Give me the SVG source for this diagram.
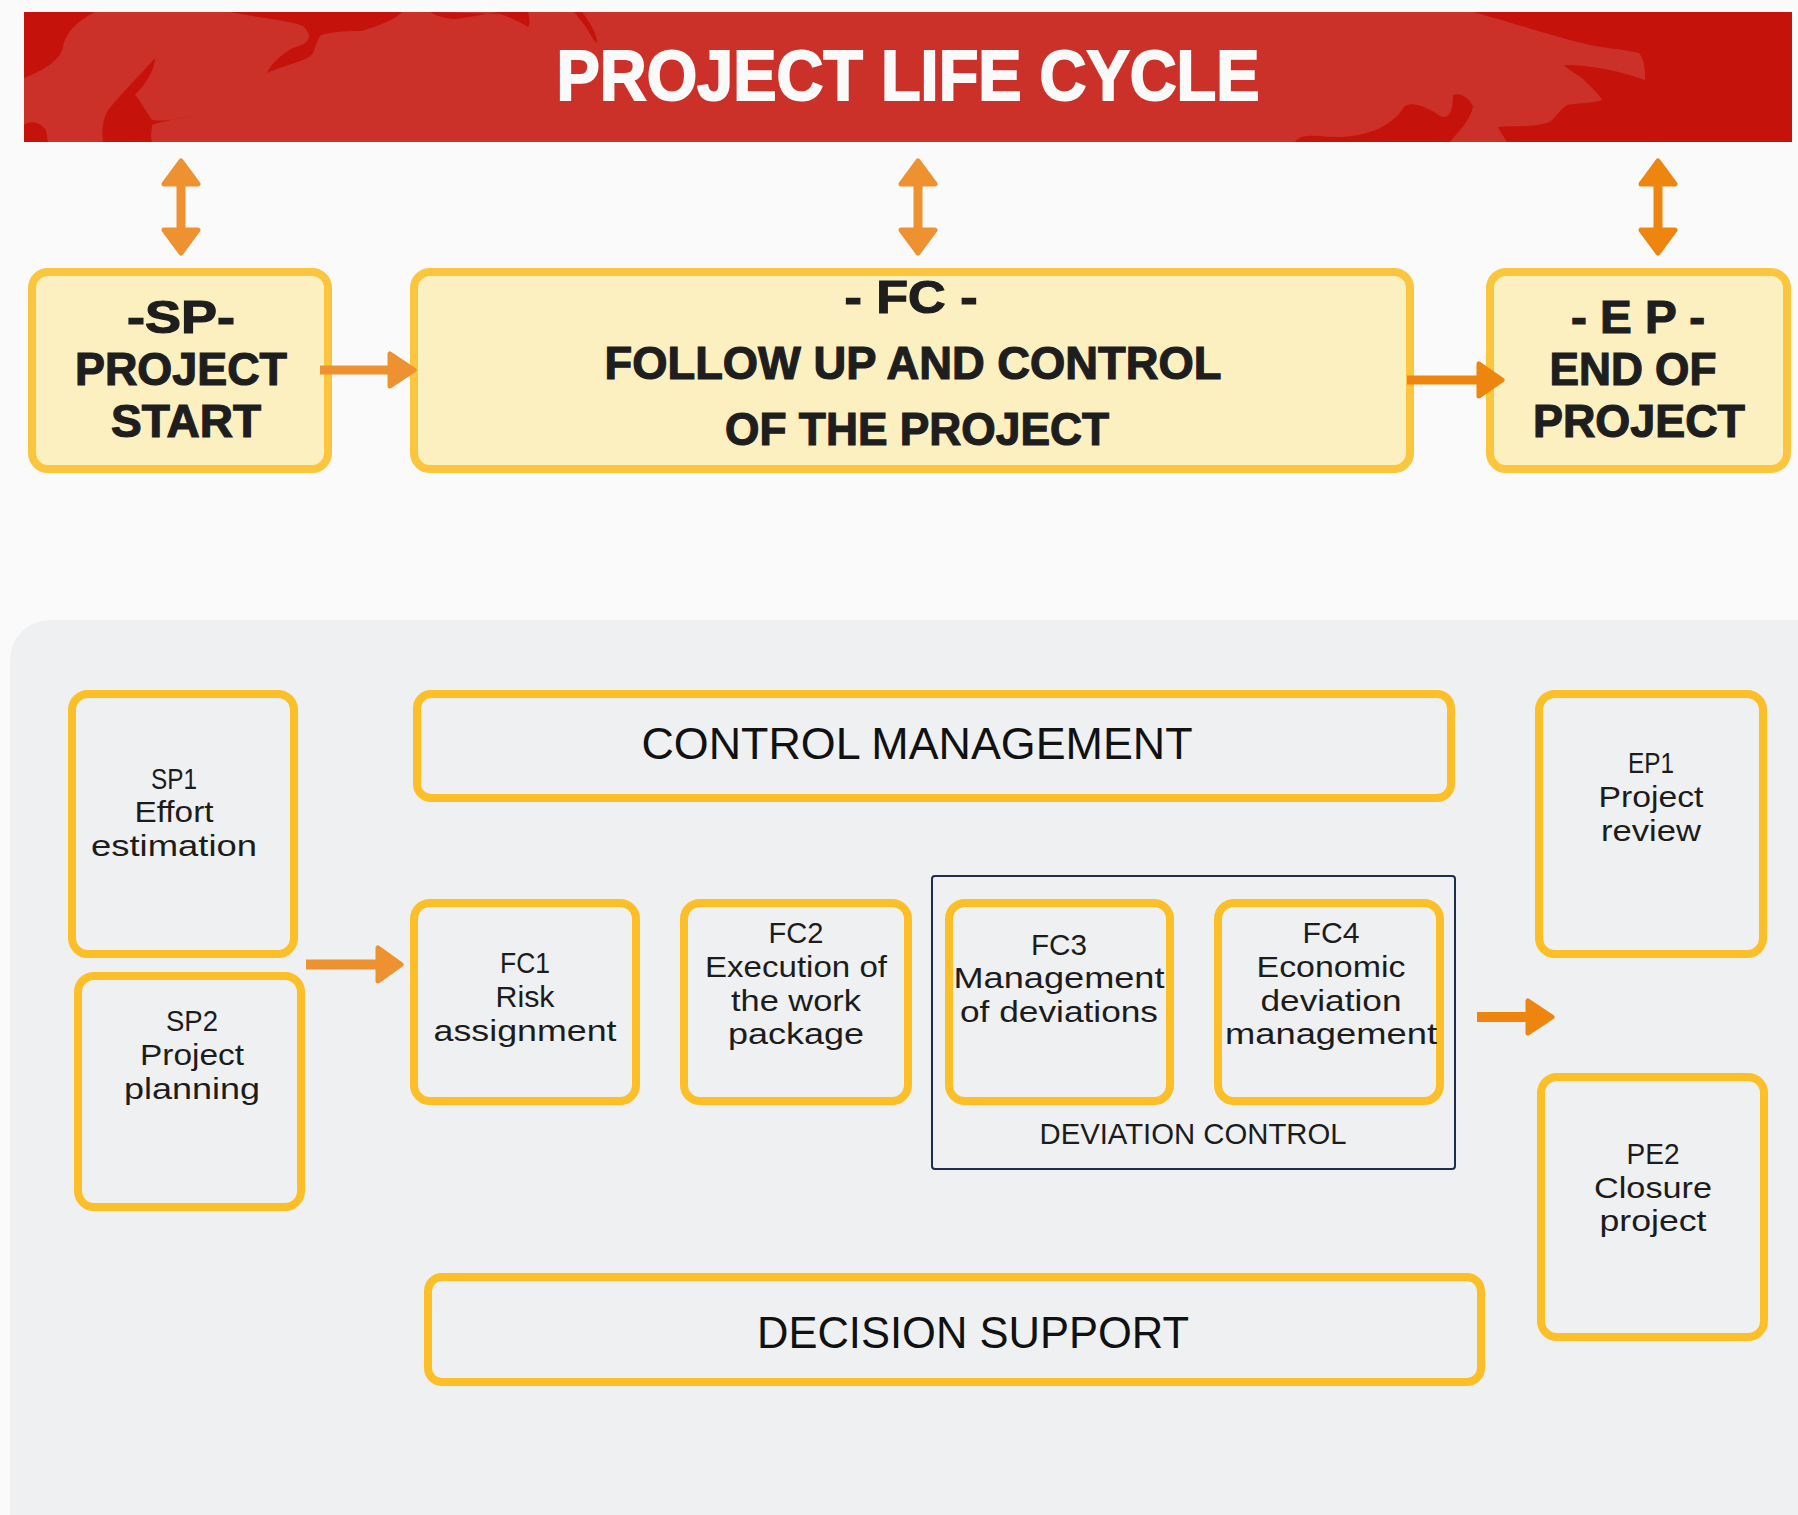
<svg xmlns="http://www.w3.org/2000/svg" width="1798" height="1515" viewBox="0 0 1798 1515">
<style>
.bold{font-family:"Liberation Sans",Arial,sans-serif;font-weight:bold;fill:#1e1e1e;stroke:#1e1e1e;stroke-width:1.2;text-anchor:middle}
.title{font-family:"Liberation Sans",Arial,sans-serif;font-weight:bold;fill:#fafafa;stroke:#fafafa;stroke-width:2;text-anchor:middle;font-size:70px}
.reg{font-family:"Liberation Sans",Arial,sans-serif;fill:#1c1c1c;text-anchor:middle;font-size:30px}
.big{font-family:"Liberation Sans",Arial,sans-serif;fill:#111;text-anchor:middle;font-size:45px}
.topbox{fill:#fdf0c0;stroke:#fbc63e;stroke-width:8}
.box{fill:none;stroke:#fcbf27;stroke-width:8}
.arr{fill:#ee9130;stroke:#ee9130;stroke-width:5;stroke-linejoin:round}
.arr2{fill:#ee850f;stroke:#ee850f;stroke-width:5;stroke-linejoin:round}
.dark{fill:#c5130c}
</style>
<rect x="0" y="0" width="1798" height="1515" fill="#fafafa"/>
<g id="banner">
<rect x="24" y="12" width="1768" height="130" fill="#cb3029"/>
<path class="dark" d="M24,12 H95 C80,20 66,30 63,47 C60,60 45,70 24,78 Z"/>
<path class="dark" d="M230,12 C260,18 300,22 304,27 C312,35 312,43 293,48 C280,55 270,65 267,73 C285,65 310,60 313,53 C316,45 318,38 321,35 C335,31 350,31 362,31 C380,25 395,20 402,12 Z"/>
<path class="dark" d="M430,12 C440,18 450,19 455,19 C470,17 490,13 500,12 L528,12 C530,20 530,25 528,27 C520,22 512,18 500,14 Z"/>
<path class="dark" d="M574,12 L582,12 C592,25 597,35 597,43 C592,40 590,30 574,12 Z"/>
<path class="dark" d="M155,58 C140,75 120,95 108,110 C100,125 103,135 103,142 L152,142 C150,135 152,130 152,125 C165,120 185,118 198,115 C180,118 165,122 152,120 C145,110 140,100 135,95 C145,85 155,70 155,58 Z"/>
<path class="dark" d="M24,125 C30,120 40,122 46,130 L48,142 L24,142 Z"/>
<path class="dark" d="M1473,12 C1520,25 1560,38 1582,43 C1600,48 1630,50 1639,53 C1645,60 1645,70 1645,80 C1630,75 1600,65 1564,65 C1570,72 1580,75 1584,80 C1592,88 1600,95 1602,100 C1590,104 1575,103 1567,105 C1557,112 1555,120 1547,123 C1530,128 1510,125 1498,127 C1500,132 1505,138 1507,142 L1792,142 L1792,12 Z"/>
<path class="dark" d="M1295,142 C1300,135 1310,135 1330,137 C1360,138 1390,130 1404,107 C1410,100 1430,108 1440,116 C1450,120 1453,110 1453,95 C1460,92 1470,98 1473,107 C1470,120 1460,130 1450,142 Z"/>
<text class="title" x="908" y="100" textLength="703" lengthAdjust="spacingAndGlyphs">PROJECT LIFE CYCLE</text>
</g>
<g id="sp">
<rect class="topbox" x="32" y="272" width="296" height="197" rx="16"/>
<text class="bold" font-size="46" x="181" y="333" textLength="108" lengthAdjust="spacingAndGlyphs">-SP-</text>
<text class="bold" font-size="46" x="181" y="385" textLength="212" lengthAdjust="spacingAndGlyphs">PROJECT</text>
<text class="bold" font-size="46" x="186" y="437" textLength="150" lengthAdjust="spacingAndGlyphs">START</text>
</g>
<g id="fc">
<rect class="topbox" x="414" y="272" width="996" height="197" rx="16"/>
<text class="bold" font-size="46" x="911" y="313" textLength="133" lengthAdjust="spacingAndGlyphs">- FC -</text>
<text class="bold" font-size="46" x="913" y="379" textLength="617" lengthAdjust="spacingAndGlyphs">FOLLOW UP AND CONTROL</text>
<text class="bold" font-size="46" x="917" y="445" textLength="384" lengthAdjust="spacingAndGlyphs">OF THE PROJECT</text>
</g>
<g id="ep">
<rect class="topbox" x="1490" y="272" width="297" height="197" rx="16"/>
<text class="bold" font-size="46" x="1638" y="333" textLength="134" lengthAdjust="spacingAndGlyphs">- E P -</text>
<text class="bold" font-size="46" x="1633" y="385" textLength="167" lengthAdjust="spacingAndGlyphs">END OF</text>
<text class="bold" font-size="46" x="1639" y="437" textLength="212" lengthAdjust="spacingAndGlyphs">PROJECT</text>
</g>
<g id="connectors">
<line x1="181" y1="180" x2="181" y2="232" stroke="#ee9130" stroke-width="9"/>
<path class="arr" d="M181,161 L198,184 L164,184 Z"/>
<path class="arr" d="M181,253 L198,230 L164,230 Z"/>
<line x1="918" y1="180" x2="918" y2="232" stroke="#ee9130" stroke-width="9"/>
<path class="arr" d="M918,161 L935,184 L901,184 Z"/>
<path class="arr" d="M918,253 L935,230 L901,230 Z"/>
<line x1="1658" y1="180" x2="1658" y2="232" stroke="#ee850f" stroke-width="9"/>
<path class="arr2" d="M1658,161 L1675,184 L1641,184 Z"/>
<path class="arr2" d="M1658,253 L1675,230 L1641,230 Z"/>
<rect x="320" y="365.5" width="72" height="9" fill="#ee9130"/>
<path class="arr" d="M414,370 L390,354 L390,386 Z"/>
<rect x="1407" y="375.5" width="73" height="9" fill="#ee850f"/>
<path class="arr2" d="M1502,380 L1479,364 L1479,396 Z"/>
</g>
<rect id="panel" x="10" y="620" width="1830" height="940" rx="40" fill="#eef0f2"/>
<g id="connectors-lower">
<rect x="306" y="959.5" width="73" height="10" fill="#ee9130"/>
<path class="arr" d="M401,964.5 L378,948 L378,981 Z"/>
<rect x="1477" y="1012" width="51" height="10" fill="#ee850f"/>
<path class="arr2" d="M1552,1017 L1528,1001 L1528,1033 Z"/>
</g>
<g id="sp1">
<rect class="box" x="72" y="694" width="222" height="260" rx="16"/>
<text class="reg" x="174" y="789" textLength="46" lengthAdjust="spacingAndGlyphs">SP1</text>
<text class="reg" x="174" y="822" textLength="79" lengthAdjust="spacingAndGlyphs">Effort</text>
<text class="reg" x="174" y="856" textLength="166" lengthAdjust="spacingAndGlyphs">estimation</text>
</g>
<g id="sp2">
<rect class="box" x="78" y="976" width="223" height="231" rx="16"/>
<text class="reg" x="192" y="1031" textLength="52" lengthAdjust="spacingAndGlyphs">SP2</text>
<text class="reg" x="192" y="1065" textLength="104" lengthAdjust="spacingAndGlyphs">Project</text>
<text class="reg" x="192" y="1099" textLength="136" lengthAdjust="spacingAndGlyphs">planning</text>
</g>
<g id="control-management">
<rect class="box" x="417" y="694" width="1034" height="104" rx="14"/>
<text class="big" x="917" y="759" textLength="551" lengthAdjust="spacingAndGlyphs">CONTROL MANAGEMENT</text>
</g>
<g id="fc1">
<rect class="box" x="414" y="903" width="222" height="198" rx="16"/>
<text class="reg" x="525" y="973" textLength="50" lengthAdjust="spacingAndGlyphs">FC1</text>
<text class="reg" x="525" y="1007" textLength="59" lengthAdjust="spacingAndGlyphs">Risk</text>
<text class="reg" x="525" y="1041" textLength="183" lengthAdjust="spacingAndGlyphs">assignment</text>
</g>
<g id="fc2">
<rect class="box" x="684" y="903" width="224" height="198" rx="16"/>
<text class="reg" x="796" y="943" textLength="55" lengthAdjust="spacingAndGlyphs">FC2</text>
<text class="reg" x="796" y="977" textLength="182" lengthAdjust="spacingAndGlyphs">Execution of</text>
<text class="reg" x="796" y="1011" textLength="130" lengthAdjust="spacingAndGlyphs">the work</text>
<text class="reg" x="796" y="1044" textLength="136" lengthAdjust="spacingAndGlyphs">package</text>
</g>
<g id="deviation-control">
<rect x="932" y="876" width="523" height="293" rx="3" fill="none" stroke="#1f2c4c" stroke-width="2"/>
<text class="reg" font-size="29" x="1193" y="1144" textLength="307" lengthAdjust="spacingAndGlyphs">DEVIATION CONTROL</text>
</g>
<g id="fc3">
<rect class="box" x="949" y="903" width="221" height="198" rx="16"/>
<text class="reg" x="1059" y="955" textLength="56" lengthAdjust="spacingAndGlyphs">FC3</text>
<text class="reg" x="1059" y="988" textLength="211" lengthAdjust="spacingAndGlyphs">Management</text>
<text class="reg" x="1059" y="1022" textLength="198" lengthAdjust="spacingAndGlyphs">of deviations</text>
</g>
<g id="fc4">
<rect class="box" x="1218" y="903" width="222" height="198" rx="16"/>
<text class="reg" x="1331" y="943" textLength="57" lengthAdjust="spacingAndGlyphs">FC4</text>
<text class="reg" x="1331" y="977" textLength="149" lengthAdjust="spacingAndGlyphs">Economic</text>
<text class="reg" x="1331" y="1011" textLength="141" lengthAdjust="spacingAndGlyphs">deviation</text>
<text class="reg" x="1331" y="1044" textLength="212" lengthAdjust="spacingAndGlyphs">management</text>
</g>
<g id="ep1">
<rect class="box" x="1539" y="694" width="224" height="260" rx="16"/>
<text class="reg" x="1651" y="773" textLength="46" lengthAdjust="spacingAndGlyphs">EP1</text>
<text class="reg" x="1651" y="807" textLength="105" lengthAdjust="spacingAndGlyphs">Project</text>
<text class="reg" x="1651" y="841" textLength="100" lengthAdjust="spacingAndGlyphs">review</text>
</g>
<g id="pe2">
<rect class="box" x="1541" y="1077" width="223" height="260" rx="16"/>
<text class="reg" x="1653" y="1164" textLength="53" lengthAdjust="spacingAndGlyphs">PE2</text>
<text class="reg" x="1653" y="1198" textLength="118" lengthAdjust="spacingAndGlyphs">Closure</text>
<text class="reg" x="1653" y="1231" textLength="107" lengthAdjust="spacingAndGlyphs">project</text>
</g>
<g id="decision-support">
<rect class="box" x="428" y="1277" width="1053" height="105" rx="14"/>
<text class="big" x="973" y="1348" textLength="432" lengthAdjust="spacingAndGlyphs">DECISION SUPPORT</text>
</g>
</svg>
